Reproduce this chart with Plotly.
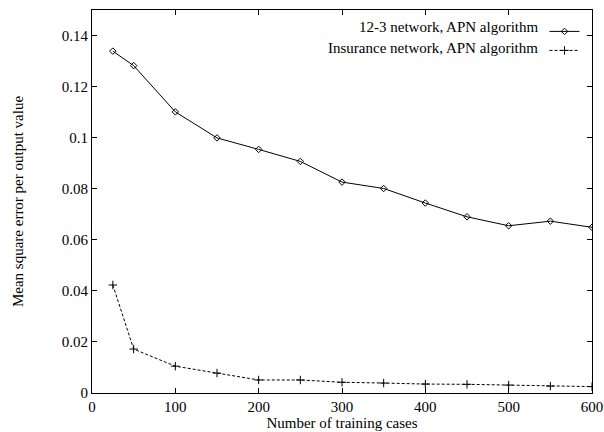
import plotly.graph_objects as go

training_cases = [25, 50, 100, 150, 200, 250, 300, 350, 400, 450, 500, 550, 600]
net_123_apn = [0.1339, 0.1282, 0.1101, 0.0999, 0.0954, 0.0907, 0.0826, 0.0801, 0.0744, 0.0690, 0.0655, 0.0673, 0.0649]
insurance_apn = [0.0423, 0.0172, 0.0105, 0.0078, 0.0051, 0.0051, 0.0042, 0.0039, 0.0035, 0.0034, 0.0031, 0.0027, 0.0025]
series_names = ["12-3 network, APN algorithm", "Insurance network, APN algorithm"]

x_ticks = [0, 100, 200, 300, 400, 500, 600]
y_ticks = [0, 0.02, 0.04, 0.06, 0.08, 0.1, 0.12, 0.14]
y_tick_labels = ["0", "0.02", "0.04", "0.06", "0.08", "0.1", "0.12", "0.14"]

font_family = "Liberation Serif"

fig = go.Figure()
fig.add_trace(go.Scatter(
    x=training_cases, y=net_123_apn, mode="lines+markers",
    name=" ",
    line=dict(color="black", width=1),
    marker=dict(symbol="diamond-open", size=5, color="black", line=dict(width=1, color="black")),
))
fig.add_trace(go.Scatter(
    x=training_cases, y=insurance_apn, mode="lines+markers",
    name="  ",
    line=dict(color="black", width=1, dash="3px,2px"),
    marker=dict(symbol="cross-thin-open", size=6, color="black", line=dict(width=1, color="black")),
))

axis_common = dict(
    showgrid=False, zeroline=False, showline=True, linecolor="black", linewidth=1,
    mirror="ticks", ticks="inside", ticklen=5, tickcolor="black", tickwidth=1,
    tickfont=dict(family=font_family, size=15, color="black"), automargin=False,
)

# legend texts, right-aligned to the left of the legend keys (gnuplot style)
legend_text_x = 0.895
legend_text_y = [0.955, 0.90]
annotations = [
    dict(text=name, xref="paper", yref="paper", x=legend_text_x, y=yy,
         xanchor="right", yanchor="middle", showarrow=False,
         font=dict(family=font_family, size=15, color="black"))
    for name, yy in zip(series_names, legend_text_y)
]

fig.update_layout(
    width=604, height=432,
    margin=dict(l=92, r=12, t=10, b=39),
    paper_bgcolor="white", plot_bgcolor="white",
    font=dict(family=font_family, size=15, color="black"),
    xaxis=dict(range=[0, 600], tickvals=x_ticks,
               title=dict(text="Number of training cases", font=dict(family=font_family, size=15), standoff=0),
               **axis_common),
    yaxis=dict(range=[0, 0.15], tickvals=y_ticks, ticktext=y_tick_labels,
               title=dict(text="Mean square error per output value", font=dict(family=font_family, size=15), standoff=34),
               **axis_common),
    legend=dict(x=0.905, y=0.982, xanchor="left", yanchor="top", bgcolor="rgba(0,0,0,0)",
                font=dict(family=font_family, size=8, color="black"), tracegroupgap=0,
                itemwidth=30),
    showlegend=True,
    annotations=annotations,
)

fig.write_html("out.html", config={"displayModeBar": False},
               post_script="document.body.style.margin='0';document.body.style.overflow='hidden';")
